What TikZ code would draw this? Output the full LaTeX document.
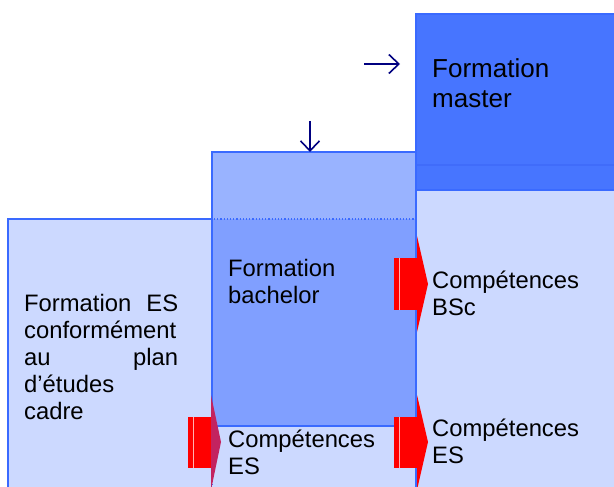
\documentclass[tikz,border=0pt]{standalone}
\usepackage{fontspec}
\setmainfont{Liberation Sans}
\usetikzlibrary{arrows.meta}
\definecolor{colfill}{RGB}{204,217,255}
\definecolor{bord}{RGB}{58,106,255}
\definecolor{bachup}{RGB}{153,179,255}
\definecolor{bachlo}{RGB}{128,159,255}
\definecolor{mastfill}{RGB}{71,117,255}
\definecolor{mastline}{RGB}{64,108,250}
\definecolor{navyarrow}{RGB}{0,0,128}
\definecolor{redarrow}{RGB}{255,0,0}
\definecolor{mixhead}{RGB}{195,35,95}
\tikzset{
  boxline/.style={draw=bord, line width=1.5pt},
  dotline/.style={draw=bord, line width=1.2pt, dotted},
  lbl/.style={inner sep=0pt, anchor=base west, align=left, font=\fontsize{23.8}{27}\selectfont},
  biglbl/.style={lbl, font=\fontsize{26}{30}\selectfont},
  navyarr/.style={draw=navyarrow, line width=1.6pt, -{Straight Barb[length=10pt,width=19pt,line width=1.6pt]}},
}
\begin{document}
\begin{tikzpicture}[x=1pt,y=-1pt]
\useasboundingbox (0,0) rectangle (614,487);
\fill[white] (0,0) rectangle (614,487);
% columns
\path[boxline, fill=colfill] (8,219) rectangle (212,497);
\fill[colfill] (212,219) rectangle (416,497);
\path[boxline, fill=colfill] (416,164) rectangle (625,497);
% master
\path[boxline, fill=mastfill] (416,14) rectangle (625,190);
\draw[mastline, line width=1.5pt] (417,165) -- (625,165);
% bachelor
\fill[bachup] (212,152) rectangle (416,219);
\fill[bachlo] (212,219) rectangle (416,426);
\path[boxline] (212,152) rectangle (416,426);
\path[dotline] (214,219) -- (414,219);
\path[dotline] (212,426) -- (212,497);
\path[dotline] (416,426) -- (416,497);
% red arrows
\fill[redarrow] (394,258) rectangle (418,310);
\fill[redarrow] (417,236) -- (428,284) -- (417,332) -- cycle;
\fill[redarrow] (394,417) rectangle (418,468);
\fill[redarrow] (417,395) -- (428,442) -- (417,490) -- cycle;
\fill[redarrow] (188,417) rectangle (212,468);
\fill[mixhead] (211,395) -- (221,442) -- (211,490) -- cycle;
\draw[white!70!red, line width=0.6pt] (399,258) -- (399,310);
\draw[white!70!red, line width=0.6pt] (399,417) -- (399,468);
\draw[white!70!red, line width=0.6pt] (193,417) -- (193,468);
% navy arrows
\coordinate (ra0) at (364,64);
\coordinate (ra1) at (400,64);
\coordinate (da0) at (310,121);
\coordinate (da1) at (310,152);
\path[navyarr] (ra0) -- (ra1);
\path[navyarr] (da0) -- (da1);
% texts (anchored at the baseline of the last line)
\node[biglbl] (master) at (432,107) {Formation\\master};
\node[lbl] (bachelor) at (228,303) {Formation\\bachelor};
\node[lbl] (es) at (24,419) {\makebox[154pt][s]{Formation ES}\\conformément\\\makebox[154pt][s]{au plan}\\d’études\\cadre};
\node[lbl] (cbsc) at (432,315) {Compétences\\BSc};
\node[lbl] (ces1) at (228,474) {Compétences\\ES};
\node[lbl] (ces2) at (432,463) {Compétences\\ES};
\end{tikzpicture}
\end{document}
